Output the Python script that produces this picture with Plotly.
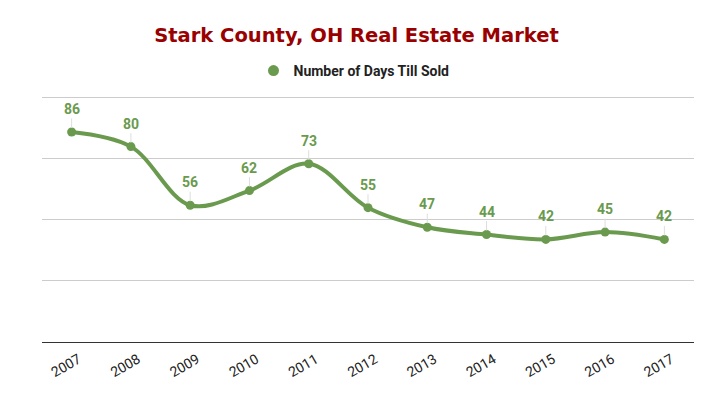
import plotly.graph_objects as go

years = ["2007", "2008", "2009", "2010", "2011", "2012", "2013", "2014", "2015", "2016", "2017"]
days = [86, 80, 56, 62, 73, 55, 47, 44, 42, 45, 42]
series_name = "Number of Days Till Sold"
title_text = "Stark County, OH Real Estate Market"

GREEN = "#6a9a4e"

fig = go.Figure()
fig.add_trace(go.Scatter(
    x=years, y=days, mode="lines+markers", name=series_name, showlegend=False,
    line=dict(color=GREEN, width=4, shape="spline", smoothing=1.0),
    marker=dict(color=GREEN, size=9),
))
# legend entry shown as a plain circle
fig.add_trace(go.Scatter(
    x=[None], y=[None], mode="markers", name=series_name, showlegend=True,
    marker=dict(color=GREEN, size=11),
))

for i, yv in enumerate(days):
    fig.add_annotation(
        x=i, y=yv, xref="x", yref="y", text=str(yv),
        showarrow=True, arrowhead=0, arrowwidth=1, arrowcolor="#dddddd",
        ax=0, ay=-23, standoff=4,
        font=dict(family="Roboto", size=14, color=GREEN, weight="bold"),
    )

fig.update_layout(
    width=713, height=393,
    margin=dict(l=42, r=19, t=88, b=51, autoexpand=False),
    paper_bgcolor="white", plot_bgcolor="white",
    title=dict(text=title_text, x=0.5, xanchor="center", y=1 - 35 / 393, yanchor="middle",
               font=dict(family="DejaVu Sans", size=19.5, color="#990000", weight="bold")),
    showlegend=True,
    legend=dict(orientation="h", x=0.5 - 14 / 652, xanchor="center", y=(342 - 71) / 254,
                yanchor="middle",
                font=dict(family="Roboto", size=14, color="#222222", weight="bold")),
    xaxis=dict(type="category", range=[-0.5, 10.5], showgrid=False, showline=True,
               linecolor="#333333", linewidth=1, ticks="", tickangle=-30, automargin=False,
               ticklabelshift=7, ticklabelstandoff=3,
               tickfont=dict(family="Roboto", size=14, color="#222222")),
    yaxis=dict(range=[0, 104], tickvals=[0, 25, 50, 75, 100], showgrid=True,
               gridcolor="#cccccc", gridwidth=1, automargin=False,
               showticklabels=False, zeroline=False, ticks=""),
)

fig.write_html("out.html", config={"displayModeBar": False},
               post_script="document.body.style.margin='0';document.body.style.padding='0';")
